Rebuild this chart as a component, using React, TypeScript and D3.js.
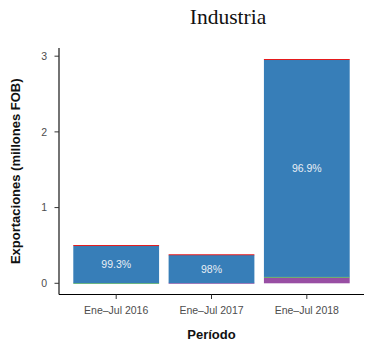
import React from "react";
import * as d3 from "d3";

const periods = ["Ene–Jul 2016", "Ene–Jul 2017", "Ene–Jul 2018"];
const seriesKeys = ["s4", "s3", "s1", "s2"]; // bottom to top
const seriesColors = ["#984EA3", "#4DAF4A", "#377EB8", "#E41A1C"];
const s1 = [0.4965, 0.3724, 2.868]; // main (blue)
const s2 = [0.0022, 0.006, 0.008]; // red
const s3 = [0.0013, 0, 0.007]; // green
const s4 = [0, 0.0016, 0.077]; // purple
const mainLabels = ["99.3%", "98%", "96.9%"];
const yTicks = [0, 1, 2, 3];

export default function App() {
  const W = 365, H = 341;
  const left = 59, right = 364, top = 48, bottom = 294.5;
  const rows = periods.map((p, i) => ({ period: p, s1: s1[i], s2: s2[i], s3: s3[i], s4: s4[i] }));
  const stack = d3.stack<any>().keys(seriesKeys)(rows);
  const totals = rows.map((r) => r.s1 + r.s2 + r.s3 + r.s4);
  const maxV = d3.max(totals) as number;
  const y = d3.scaleLinear().domain([-0.05 * maxV, maxV * 1.05]).range([bottom, top]);
  const x = d3.scaleBand().domain(periods).range([left, right]).paddingInner(0.1).paddingOuter(0.15);
  const bw = x.bandwidth();
  const sans = "'Liberation Sans', Arial, Helvetica, sans-serif";
  const blueIdx = seriesKeys.indexOf("s1");
  return (
    <svg width={W} height={H} style={{ position: "absolute", left: 0, top: 0 }}>
      <rect width={W} height={H} fill="#fff" />
      <text x={228} y={24} textAnchor="middle" fontFamily="'Liberation Serif', 'DejaVu Serif', serif" fontSize={21.5} fill="#111">Industria</text>
      {stack.map((layer, li) => (
        <g key={li} fill={seriesColors[li]}>
          {layer.map((d, i) => {
            const v = d[1] - d[0];
            if (v <= 0) return null;
            const h = Math.max(1, y(d[0]) - y(d[1]));
            const mid = (y(d[0]) + y(d[1])) / 2;
            return <rect key={i} x={x(periods[i])} width={bw} y={mid - h / 2} height={h} />;
          })}
        </g>
      ))}
      {stack[blueIdx].map((d, i) => (
        <text key={i} x={(x(periods[i]) as number) + bw / 2} y={(y(d[0]) + y(d[1])) / 2} dy="0.35em" textAnchor="middle" fontFamily={sans} fontSize={10.5} fill="#e8eef5">{mainLabels[i]}</text>
      ))}
      <line x1={left} x2={left} y1={top} y2={bottom} stroke="#000" strokeWidth={1.1} />
      <line x1={left} x2={right} y1={bottom} y2={bottom} stroke="#000" strokeWidth={1.1} />
      {yTicks.map((t) => (
        <g key={t}>
          <line x1={left - 4.5} x2={left} y1={y(t)} y2={y(t)} stroke="#333" strokeWidth={1} />
          <text x={left - 12} y={y(t)} dy="0.35em" textAnchor="end" fontFamily={sans} fontSize={10.5} fill="#4d4d4d">{t}</text>
        </g>
      ))}
      {periods.map((p) => (
        <g key={p}>
          <line x1={(x(p) as number) + bw / 2} x2={(x(p) as number) + bw / 2} y1={bottom} y2={bottom + 4.5} stroke="#333" strokeWidth={1} />
          <text x={(x(p) as number) + bw / 2} y={bottom + 16} dy="0.35em" textAnchor="middle" fontFamily={sans} fontSize={10.5} fill="#4d4d4d">{p}</text>
        </g>
      ))}
      <text x={(left + right) / 2} y={339} textAnchor="middle" fontFamily={sans} fontSize={13} fontWeight="bold" fill="#111">Período</text>
      <text transform={`translate(${20},${(top + bottom) / 2}) rotate(-90)`} textAnchor="middle" fontFamily={sans} fontSize={13} fontWeight="bold" fill="#111">Exportaciones (millones FOB)</text>
    </svg>
  );
}
